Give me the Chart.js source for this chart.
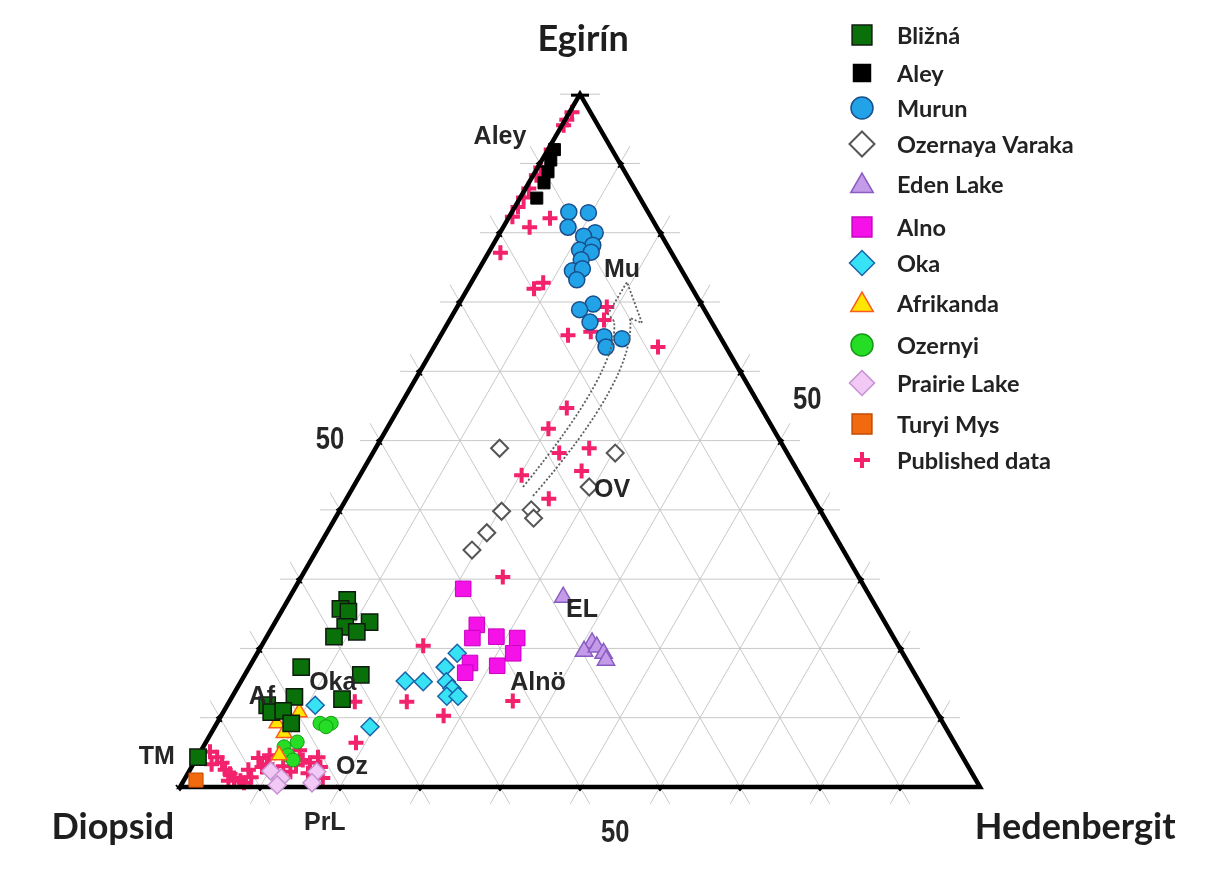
<!DOCTYPE html>
<html lang="cs">
<head>
  <meta charset="UTF-8">
  <title>Egirín – Diopsid – Hedenbergit</title>
  <style>
    * { margin: 0; padding: 0; box-sizing: border-box; }
    body { background: #fff; width: 1210px; height: 870px; overflow: hidden; }
    canvas { display: block; }
  </style>
  <script src="https://cdn.jsdelivr.net/npm/chart.js"></script>
</head>
<body>
  <canvas id="ternary" width="1210" height="870"></canvas>
  <script>
// Compositions: [Egirín %, Hedenbergit %] (Diopsid = rest)
const blizna = [[27, 7.4], [25.7, 7.2], [25.3, 8.4], [23.8, 11.8], [23.1, 9.1], [22.4, 10.9], [21.7, 8.4],
  [17.3, 6.5], [16.2, 14.5], [12.7, 13.9], [13, 7.8], [11.8, 5], [10.8, 6], [11, 7.4], [9.2, 9.3], [4.3, 0.1]];
const aley = [[92, 0.8], [90.5, 1.1], [88.8, 1.6], [87.2, 1.9], [85, 2.1]];
const murun = [[83, 7.1], [82.9, 9.6], [80.8, 8.1], [80, 11.9], [79.5, 10.7], [78.2, 12.5], [77.5, 11.2],
  [77.2, 12.8], [76.1, 12.1], [74.5, 11.8], [74.8, 12.9], [73.2, 13], [69.7, 16.8], [68.9, 15.5],
  [67.1, 17.7], [65, 20.5], [64.7, 22.9], [63.5, 21.5]];
const ozernayaVaraka = [[48.9, 15.5], [48.2, 30.3], [43.3, 29.5], [39.8, 20.3], [40, 23.9], [38.8, 24.8],
  [36.7, 20], [34.2, 19.4]];
const edenLake = [[27.4, 34.2], [20.8, 41.1], [19.6, 40.7], [20.2, 42], [19.3, 43.3], [18.3, 44.1]];
const alno = [[28.6, 21.1], [23.4, 25.4], [21.5, 25.8], [21.7, 28.7], [21.5, 31.4], [19.3, 32], [17.9, 27.3],
  [17.5, 30.9], [16.5, 27.4]];
const oka = [[19.3, 25], [17.3, 24.5], [15.3, 20.5], [15.2, 22.8], [15.2, 25.7], [14.2, 26.9], [13.1, 26.8],
  [13.1, 28.2], [11.8, 11], [8.7, 19.4]];
const afrikanda = [[10.8, 9.5], [9.2, 7.5], [7.8, 9.1], [4.6, 10.1]];
const ozernyi = [[9.2, 12.9], [9.2, 14.3], [8.7, 13.9], [6.5, 11.4], [5.8, 10.1], [4.6, 11.2], [3.9, 12.2]];
const prairieLake = [[2.3, 10.2], [1.3, 12], [0.3, 12], [2.2, 16], [0.6, 16.2]];
const turyiMys = [[1, 1.5]];
const published = [
  [97.4, 0.3], [96.3, 0.2], [95.5, 0.2], [92, 0.4], [89.4, 0.4], [88.3, 0.4], [86.4, 0.4], [85.1, 0.4],
  [83.7, 0.4], [82.3, 0.4], [82.1, 5.2], [80.8, 3.3], [77.1, 1.5], [71.9, 8.3], [72.8, 9], [69.3, 18.7],
  [67.4, 19.3], [65.2, 15.9], [65.7, 18.5], [63.5, 28],
  [54.7, 21], [51.7, 20.2], [48.2, 23.3], [48.9, 26.7], [45.6, 27.4], [45, 20.2], [41.6, 25.3], [30.3, 25.2],
  [20.4, 20.2], [12.3, 22.2], [10.3, 27.8], [12.4, 35.4], [12.3, 15.7], [6.4, 18.8],
  [5.1, 1.2], [4.3, 2.5], [3.5, 3.5], [3.3, 2.3], [2.5, 4.4], [1.9, 5.3], [1.3, 6.1], [0.9, 5.6], [0.9, 7.1],
  [2.5, 7.3], [1.4, 8.2], [0.6, 7.7], [4.2, 7.7], [2.9, 8.8], [4.6, 8.9], [3.3, 9.2], [5.3, 12.3], [3.9, 13.4],
  [3.5, 14.5], [4.3, 15.1], [2.9, 16.1], [2, 15], [2.2, 12.7], [1.9, 11.2], [3, 11.4], [1.3, 17.2], [3.2, 12.9],
  [1.7, 16]
];
const gridSteps = [0, 10, 20, 30, 40, 50, 60, 70, 80, 90, 100];

const SQ = Math.sqrt(3) / 2;
const toXY = ([aeg, hd]) => ({ x: hd + aeg / 2, y: aeg * SQ });

// series styling: name, data, pointStyle, radius, fill, border, border width
const series = [
  ['Bližná', blizna, 'rect', 11.5, '#0a700a', '#0d1a0d', 1.5],
  ['Aley', aley, 'rect', 8.5, '#000000', '#000000', 1],
  ['Murun', murun, 'circle', 8, '#22a3e8', '#1a4f8c', 1.5],
  ['Ozernaya Varaka', ozernayaVaraka, 'rectRot', 8.5, '#ffffff', '#555555', 2],
  ['Eden Lake', edenLake, 'triangle', 10, '#c49be8', '#8a5cc2', 1.5],
  ['Alno', alno, 'rect', 11, '#f512e8', '#c800c0', 1],
  ['Oka', oka, 'rectRot', 9, '#38e2f5', '#1b62a8', 1.5],
  ['Afrikanda', afrikanda, 'triangle', 9, '#ffe600', '#ff5a1e', 1.5],
  ['Ozernyi', ozernyi, 'circle', 7, '#25dd25', '#169a16', 1],
  ['Prairie Lake', prairieLake, 'rectRot', 9, '#f2c8f4', '#c591d2', 1.5],
  ['Turyi Mys', turyiMys, 'rect', 10, '#f26a10', '#c34a00', 1],
  ['Published data', published, 'cross', 7.5, '#f2226c', '#f2226c', 4]
];

const labels = [
  ['Aley', 40, 81.25], ['Mu', 55.25, 64.6], ['OV', 54, 37.1], ['EL', 50.25, 22.1], ['Alnö', 44.75, 13],
  ['Oka', 19.1, 13], ['Af', 10.25, 11.25], ['Oz', 21.5, 2.5], ['TM', -2.9, 3.75], ['PrL', 18.1, -4.5]
];

function pix(chart, u, v) {
  return [chart.scales.x.getPixelForValue(u), chart.scales.y.getPixelForValue(v)];
}

function marker(ctx, style, x, y, r, fill, stroke, lw) {
  ctx.save();
  ctx.fillStyle = fill;
  ctx.strokeStyle = stroke;
  ctx.lineWidth = lw;
  ctx.beginPath();
  if (style === 'rect') {
    const s = r * Math.SQRT1_2;
    ctx.rect(x - s, y - s, 2 * s, 2 * s);
  } else if (style === 'circle') {
    ctx.arc(x, y, r, 0, Math.PI * 2);
  } else if (style === 'rectRot') {
    ctx.moveTo(x, y - r); ctx.lineTo(x + r, y); ctx.lineTo(x, y + r); ctx.lineTo(x - r, y); ctx.closePath();
  } else if (style === 'triangle') {
    ctx.moveTo(x, y - r);
    ctx.lineTo(x + r * SQ, y + r / 2);
    ctx.lineTo(x - r * SQ, y + r / 2);
    ctx.closePath();
  } else if (style === 'cross') {
    ctx.moveTo(x - r, y); ctx.lineTo(x + r, y); ctx.moveTo(x, y - r); ctx.lineTo(x, y + r);
    ctx.stroke(); ctx.restore();
    return;
  }
  ctx.fill();
  ctx.stroke();
  ctx.restore();
}

const ternaryPlugin = {
  id: 'ternary',
  beforeDatasetsDraw(chart) {
    const ctx = chart.ctx;
    const ext = 2.5;
    ctx.save();
    ctx.strokeStyle = '#c8c8c8';
    ctx.lineWidth = 1;
    const seg = (a, b) => {
      const p = toXY(a), q = toXY(b);
      const dx = q.x - p.x, dy = q.y - p.y, len = Math.hypot(dx, dy) || 1;
      const ux = dx / len * ext, uy = dy / len * ext;
      const [x1, y1] = pix(chart, p.x - ux, p.y - uy);
      const [x2, y2] = pix(chart, q.x + ux, q.y + uy);
      ctx.beginPath(); ctx.moveTo(x1, y1); ctx.lineTo(x2, y2); ctx.stroke();
    };
    gridSteps.forEach(k => {
      if (k > 0 && k < 100) {
        seg([k, 0], [k, 100 - k]);        // constant Egirín
        seg([0, k], [100 - k, k]);        // constant Hedenbergit
        seg([0, 100 - k], [100 - k, 0]);  // constant Diopsid
      }
    });
    seg([100, 0], [100, 0.001]);
    ctx.restore();
  },
  afterDatasetDraw(chart, args) {
    if (chart.data.datasets[args.index].label !== 'Published data') return;
    const ctx = chart.ctx;
    const A = toXY([100, 0]), D = toXY([0, 0]), H = toXY([0, 100]);
    const pa = pix(chart, A.x, A.y), pd = pix(chart, D.x, D.y), ph = pix(chart, H.x, H.y);
    ctx.save();
    ctx.strokeStyle = '#000';
    ctx.lineJoin = 'miter';
    ctx.lineWidth = 4.5;
    ctx.beginPath();
    ctx.moveTo(pa[0], pa[1]); ctx.lineTo(pd[0], pd[1]); ctx.lineTo(ph[0], ph[1]); ctx.closePath();
    ctx.stroke();
    // apex bar
    ctx.lineWidth = 3;
    ctx.beginPath(); ctx.moveTo(pa[0] - 9, pa[1] + 1); ctx.lineTo(pa[0] + 9, pa[1] + 1); ctx.stroke();
    // chevron ticks
    ctx.lineWidth = 1.8;
    const chev = (x, y, dx, dy) => {
      const nx = -dy, ny = dx;
      ctx.beginPath();
      ctx.moveTo(x - dx * 2 + nx * 4, y - dy * 2 + ny * 4);
      ctx.lineTo(x + dx * 3, y + dy * 3);
      ctx.lineTo(x - dx * 2 - nx * 4, y - dy * 2 - ny * 4);
      ctx.stroke();
    };
    gridSteps.forEach(k => {
      const l = toXY([k, 0]), r = toXY([k, 100 - k]), b = toXY([0, k]);
      const [lx, ly] = pix(chart, l.x, l.y);
      const [rx, ry] = pix(chart, r.x, r.y);
      const [bx, by] = pix(chart, b.x, b.y);
      if (k > 0 && k < 100) chev(lx, ly, -1, 0);
      if (k > 0 && k < 100) chev(rx, ry, 1, 0);
      if (k < 100) chev(bx, by, 0, 1);
    });
    ctx.restore();
  },
  afterDatasetsDraw(chart) {
    const ctx = chart.ctx;
    ctx.save();
    // curved dotted arrow (Ozernaya Varaka -> Murun trend)
    const P = (px, py) => pix(chart, (px - 180) / 8, (787 - py) / 8);
    ctx.strokeStyle = '#5e5e5e';
    ctx.lineWidth = 1.8;
    ctx.setLineDash([2, 2]);
    const curve = (s, c, e) => {
      const a = P(...s), b = P(...c), d = P(...e);
      ctx.beginPath(); ctx.moveTo(a[0], a[1]); ctx.quadraticCurveTo(b[0], b[1], d[0], d[1]); ctx.stroke();
    };
    curve([523, 487], [620, 368], [614, 321]);
    curve([533, 496], [637, 376], [630, 318]);
    const head = [[614, 321], [608, 314], [627, 282], [642, 323], [630, 318]].map(p => P(...p));
    ctx.beginPath();
    head.forEach((p, i) => i ? ctx.lineTo(p[0], p[1]) : ctx.moveTo(p[0], p[1]));
    ctx.stroke();
    ctx.setLineDash([]);

    // group labels
    ctx.fillStyle = '#262626';
    ctx.font = 'bold 25px "Liberation Sans", Arial, sans-serif';
    ctx.textAlign = 'center';
    ctx.textBaseline = 'middle';
    labels.forEach(([t, u, v]) => {
      const [x, y] = pix(chart, u, v);
      ctx.fillText(t, x, y);
    });

    // tick value labels (condensed)
    ctx.font = 'bold 32px "Liberation Sans", Arial, sans-serif';
    [[18.75, 43.4], [78.4, 48.4], [54.4, -5.75]].forEach(([u, v]) => {
      const [x, y] = pix(chart, u, v);
      ctx.save();
      ctx.translate(x, y);
      ctx.scale(0.8, 1);
      ctx.fillText('50', 0, 0);
      ctx.restore();
    });

    // apex labels
    ctx.fillStyle = '#1e1e1e';
    ctx.font = 'bold 36px Lato, "Open Sans", sans-serif';
    [['Egirín', 50.4, 93.4], ['Diopsid', -8.4, -5], ['Hedenbergit', 111.9, -5]].forEach(([t, u, v]) => {
      const [x, y] = pix(chart, u, v);
      ctx.fillText(t, x, y);
    });

    // legend
    ctx.textAlign = 'left';
    ctx.font = 'bold 23.5px Lato, "Open Sans", sans-serif';
    const rows = [35, 73, 108, 144, 184, 227, 263, 303, 345, 383, 424, 460];
    const legendSize = { rect: 14, circle: 11, rectRot: 12.5, triangle: 13, cross: 8 };
    series.forEach((s, i) => {
      const y = rows[i];
      let r = legendSize[s[2]];
      if (s[0] === 'Aley') r = 12;
      const dy = s[2] === 'triangle' ? 2 : 0;
      marker(ctx, s[2], 862, y + dy, r, s[4], s[5], s[2] === 'cross' ? 4 : Math.max(1.5, s[6]));
      ctx.fillStyle = '#222';
      ctx.fillText(s[0], 897, y + 1);
    });
    ctx.restore();
  }
};

new Chart(document.getElementById('ternary'), {
  type: 'scatter',
  data: {
    datasets: series.map(([name, data, style, radius, fill, border, bw]) => ({
      label: name,
      data: data.map(toXY),
      pointStyle: style,
      pointRadius: radius,
      pointHoverRadius: radius,
      backgroundColor: fill,
      borderColor: border,
      borderWidth: bw,
      order: name === 'Published data' ? 1 : 0
    }))
  },
  options: {
    responsive: false,
    animation: false,
    devicePixelRatio: 1,
    layout: { padding: 0, autoPadding: false },
    scales: {
      x: { type: 'linear', min: -22.5, max: 128.75, display: false },
      y: { type: 'linear', min: -10.375, max: 98.375, display: false }
    },
    plugins: {
      legend: { display: false },
      tooltip: { enabled: false }
    }
  },
  plugins: [ternaryPlugin]
});
  </script>
</body>
</html>
